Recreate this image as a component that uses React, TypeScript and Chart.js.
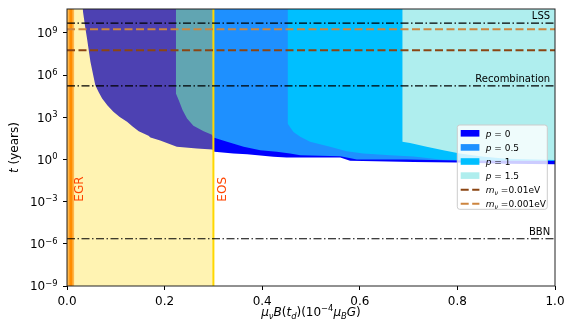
import React, { useEffect, useRef } from 'react';
import { Chart, registerables } from 'chart.js';

Chart.register(...registerables);

// ---------- data ----------
const Y_MIN = 1e-9;
const Y_MAX = 5e10;
const X_MIN = 0;
const X_MAX = 1;
const X_TICKS = [0, 0.2, 0.4, 0.6, 0.8, 1.0];
const Y_TICK_EXPONENTS = [-9, -6, -3, 0, 3, 6, 9];

// lower boundaries of the excluded regions (fill up to the top)
const P0_X = [0.032, 0.037, 0.041, 0.048, 0.058, 0.065, 0.072, 0.083, 0.095, 0.108, 0.123, 0.135, 0.147, 0.167, 0.171, 0.191, 0.225, 0.266, 0.298, 0.302, 0.341, 0.369, 0.423, 0.45, 0.56, 0.58, 0.71, 0.8, 0.9, 1.0];
const P0_Y = [5e10, 3e9, 4e8, 9e6, 1.9e5, 6e4, 2.2e4, 7e3, 2.5e3, 1.05e3, 470, 210, 100, 48, 37, 22, 8, 6, 5.1, 3.5, 2.7, 2.3, 1.55, 1.4, 1.4, 0.8, 0.65, 0.6, 0.5, 0.45];

const P05_X = [0.223, 0.223, 0.229, 0.237, 0.246, 0.259, 0.28, 0.297, 0.30, 0.328, 0.362, 0.396, 0.43, 0.457, 0.478, 0.56, 0.594, 0.696, 0.8, 1.0];
const P05_Y = [5e10, 5e4, 1.6e4, 3.2e3, 800, 250, 100, 56, 37, 18, 8, 4.6, 3.5, 2.7, 2.0, 1.7, 1.0, 1.0, 0.85, 0.78];

const P1_X = [0.452, 0.452, 0.464, 0.478, 0.498, 0.539, 0.573, 0.607, 0.662, 0.71, 0.77, 0.85, 1.0];
const P1_Y = [5e10, 360, 91, 41, 18, 8, 3.9, 2.7, 2.0, 1.6, 0.95, 0.88, 0.84];

const P15_X = [0.687, 0.687, 0.703, 0.737, 0.771, 0.805, 0.85, 0.9, 1.0];
const P15_Y = [5e10, 18, 15, 8, 4.6, 2.6, 1.6, 1.1, 0.9];

// horizontal reference times (years)
const LSS_T = 4.9e9;
const RECOMB_T = 1.7e5;
const BBN_T = 2.3e-6;
const MNU_001_T = 5.9e7; // m_nu = 0.01 eV
const MNU_0001_T = 1.8e9; // m_nu = 0.001 eV

// vertical bounds
const EGR_X = 0.008;
const EGR_BAND = 0.015;
const EOS_X = 0.3;
const LABEL_X = 0.99;
const VERT_LABEL_T = 1e-3;

const LEGEND_LABELS = ['0', '0.5', '1', '1.5'];
const LEGEND_MNU = ['0.01eV', '0.001eV'];

// ---------- style ----------
const FONT = '"DejaVu Sans", sans-serif';
const C_P0 = '#0000FF';
const C_P05 = '#1E90FF';
const C_P1 = '#00BFFF';
const C_P15 = '#AFEEEE';
const C_BROWN = '#8B4513';
const C_PERU = '#CD853F';

type Seg = { t: string; it?: boolean; sc?: number; dy?: number };

function fnt(size: number, it?: boolean) {
  return `${it ? 'italic ' : ''}${size}px ${FONT}`;
}

function drawRich(ctx: CanvasRenderingContext2D, segs: Seg[], x: number, y: number, size: number, align: 'left' | 'center' | 'right', color: string) {
  let w = 0;
  for (const s of segs) {
    ctx.font = fnt(size * (s.sc || 1), s.it);
    w += ctx.measureText(s.t).width;
  }
  let cx = align === 'left' ? x : align === 'center' ? x - w / 2 : x - w;
  ctx.fillStyle = color;
  ctx.textAlign = 'left';
  ctx.textBaseline = 'alphabetic';
  for (const s of segs) {
    ctx.font = fnt(size * (s.sc || 1), s.it);
    ctx.fillText(s.t, cx, y + (s.dy || 0));
    cx += ctx.measureText(s.t).width;
  }
}

const pts = (xs: number[], ys: number[]) => xs.map((x, i) => ({ x, y: ys[i] }));

function region(xs: number[], ys: number[], color: string, order: number) {
  return {
    data: pts(xs, ys),
    borderColor: 'rgba(0,0,0,0)',
    borderWidth: 1,
    backgroundColor: color,
    fill: 'end',
    pointRadius: 0,
    tension: 0,
    order,
  };
}

function hline(v: number, color: string, width: number, dash: number[], order: number) {
  return {
    data: [{ x: X_MIN, y: v }, { x: X_MAX, y: v }],
    borderColor: color,
    borderWidth: width,
    borderDash: dash,
    fill: false,
    pointRadius: 0,
    order,
  };
}

function vline(v: number, color: string, width: number, order: number) {
  return {
    data: [{ x: v, y: Y_MIN }, { x: v, y: Y_MAX }],
    borderColor: color,
    borderWidth: width,
    fill: false,
    pointRadius: 0,
    order,
  };
}

function band(x0: number, x1: number, color: string, order: number) {
  return {
    data: [{ x: x0, y: Y_MAX }, { x: x1, y: Y_MAX }],
    borderColor: 'rgba(0,0,0,0)',
    borderWidth: 1,
    backgroundColor: color,
    fill: 'start',
    pointRadius: 0,
    order,
  };
}

const DASHDOT = [8, 2.5, 1.5, 2.5];
const DASHED = [8, 3.5];

const overlay = {
  id: 'overlay',
  afterDatasetsDraw(chart: any) {
    const { ctx, scales } = chart;
    const x = scales.x;
    const y = scales.y;
    ctx.save();
    const lab: [string, number][] = [['LSS', LSS_T], ['Recombination', RECOMB_T], ['BBN', BBN_T]];
    for (const [t, v] of lab) {
      drawRich(ctx, [{ t }], x.getPixelForValue(LABEL_X), y.getPixelForValue(v) - 3.7, 10, 'right', '#000');
    }
    const vlab: [string, number][] = [['EGR', EGR_X], ['EOS', EOS_X]];
    for (const [t, v] of vlab) {
      ctx.save();
      ctx.translate(x.getPixelForValue(v) + 12.5, y.getPixelForValue(VERT_LABEL_T));
      ctx.rotate(-Math.PI / 2);
      drawRich(ctx, [{ t }], 0, 0, 12, 'left', '#FF4500');
      ctx.restore();
    }
    ctx.restore();
  },
  afterDraw(chart: any) {
    const { ctx, chartArea, scales } = chart;
    const y = scales.y;
    const { left, right, top, bottom } = chartArea;
    ctx.save();
    // spines
    ctx.strokeStyle = '#222';
    ctx.lineWidth = 1;
    ctx.strokeRect(left, top, right - left, bottom - top);

    // y tick labels (mathtext-like)
    for (const tk of y.ticks) {
      const py = y.getPixelForValue(tk.value);
      const e = Math.round(Math.log10(tk.value));
      const es = e < 0 ? '\u2212' + Math.abs(e) : String(e);
      drawRich(ctx, [{ t: '10' }, { t: es, sc: 0.7, dy: -4.6 }], left - 9.5, py + 4.4, 12, 'right', '#000');
    }

    // axis titles
    const xt: Seg[] = [
      { t: 'μ', it: true }, { t: 'ν', it: true, sc: 0.7, dy: 2.5 }, { t: 'B', it: true }, { t: '(' }, { t: 't', it: true },
      { t: 'd', it: true, sc: 0.7, dy: 2.5 }, { t: ')' }, { t: '(' }, { t: '10' }, { t: '\u22124', sc: 0.7, dy: -5 },
      { t: 'μ', it: true }, { t: 'B', it: true, sc: 0.7, dy: 2.5 }, { t: 'G', it: true }, { t: ')' },
    ];
    drawRich(ctx, xt, (left + right) / 2, 316, 12, 'center', '#000');
    ctx.save();
    ctx.translate(18.4, (top + bottom) / 2);
    ctx.rotate(-Math.PI / 2);
    drawRich(ctx, [{ t: 't', it: true }, { t: ' (years)' }], 0, 0, 12, 'center', '#000');
    ctx.restore();

    // legend
    const lx = right - 97.7;
    const ly = top + 116;
    const lw = 90;
    const lh = 84.3;
    ctx.beginPath();
    if ((ctx as any).roundRect) (ctx as any).roundRect(lx, ly, lw, lh, 2.5);
    else ctx.rect(lx, ly, lw, lh);
    ctx.fillStyle = 'rgba(255,255,255,0.8)';
    ctx.fill();
    ctx.strokeStyle = '#cccccc';
    ctx.lineWidth = 1;
    ctx.stroke();
    const cols = [C_P0, C_P05, C_P1, C_P15];
    const rowY = (i: number) => ly + 8.3 + i * 14.1;
    for (let i = 0; i < 4; i++) {
      ctx.fillStyle = cols[i];
      ctx.fillRect(lx + 3.4, rowY(i) - 3.3, 18.7, 6.6);
      drawRich(ctx, [{ t: 'p', it: true }, { t: ' = ' + LEGEND_LABELS[i] }], lx + 28.4, rowY(i) + 3.3, 9, 'left', '#000');
    }
    const mcol = [C_BROWN, C_PERU];
    for (let j = 0; j < 2; j++) {
      const ry = rowY(4 + j);
      ctx.strokeStyle = mcol[j];
      ctx.lineWidth = 2;
      ctx.setLineDash([8, 3.5]);
      ctx.beginPath();
      ctx.moveTo(lx + 3.4, ry);
      ctx.lineTo(lx + 22.1, ry);
      ctx.stroke();
      ctx.setLineDash([]);
      drawRich(ctx, [{ t: 'm', it: true }, { t: 'ν', it: true, sc: 0.7, dy: 2 }, { t: ' =' + LEGEND_MNU[j] }], lx + 28.4, ry + 3.3, 9, 'left', '#000');
    }
    ctx.restore();
  },
};

export default function App() {
  const ref = useRef<HTMLCanvasElement | null>(null);
  useEffect(() => {
    if (!ref.current) return;
    Chart.defaults.font.family = FONT;
    const chart = new Chart(ref.current, {
      type: 'line',
      data: {
        datasets: [
          hline(LSS_T, '#000', 1.2, DASHDOT, 1),
          hline(RECOMB_T, '#000', 1.2, DASHDOT, 2),
          hline(BBN_T, '#000', 1.2, DASHDOT, 3),
          hline(MNU_001_T, C_BROWN, 2, DASHED, 4),
          hline(MNU_0001_T, C_PERU, 2, DASHED, 5),
          vline(EGR_X, '#FF8C00', 3, 6),
          band(X_MIN, EGR_BAND, 'rgba(255,140,0,0.6)', 7),
          vline(EOS_X, '#FFD700', 2, 8),
          band(X_MIN, EOS_X, 'rgba(255,215,0,0.3)', 9),
          region(P15_X, P15_Y, C_P15, 10),
          region(P1_X, P1_Y, C_P1, 11),
          region(P05_X, P05_Y, C_P05, 12),
          region(P0_X, P0_Y, C_P0, 13),
        ] as any,
      },
      options: {
        animation: false,
        responsive: false,
        devicePixelRatio: 1,
        events: [],
        layout: { padding: { left: 0, top: 9, right: 19, bottom: 0 } },
        plugins: { legend: { display: false }, tooltip: { enabled: false } },
        scales: {
          x: {
            type: 'linear',
            min: X_MIN,
            max: X_MAX,
            afterFit: (s: any) => { s.height = 50; },
            afterBuildTicks: (s: any) => { s.ticks = X_TICKS.map((v) => ({ value: v })); },
            border: { display: false },
            grid: { drawOnChartArea: false, drawTicks: true, tickLength: 4, color: '#000' },
            ticks: {
              color: '#000',
              font: { size: 12, family: FONT },
              padding: 5,
              maxRotation: 0,
              callback: (v: any) => Number(v).toFixed(1),
            },
          },
          y: {
            type: 'logarithmic',
            min: Y_MIN,
            max: Y_MAX,
            afterFit: (s: any) => { s.width = 67; },
            afterBuildTicks: (s: any) => { s.ticks = Y_TICK_EXPONENTS.map((e) => ({ value: Math.pow(10, e) })); },
            border: { display: false },
            grid: { drawOnChartArea: false, drawTicks: true, tickLength: 4, color: '#000' },
            ticks: { display: false },
          },
        },
      } as any,
      plugins: [overlay],
    });
    return () => chart.destroy();
  }, []);
  return (
    <div style={{ position: 'absolute', left: 0, top: 0, width: 574, height: 336 }}>
      <canvas ref={ref} width={574} height={336} style={{ width: 574, height: 336 }} />
    </div>
  );
}
